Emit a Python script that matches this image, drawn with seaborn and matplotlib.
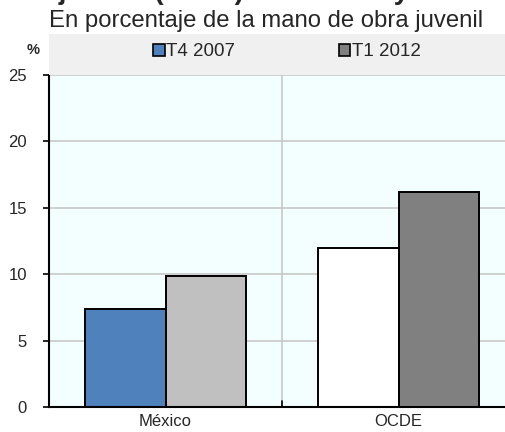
import matplotlib
matplotlib.use("Agg")
import matplotlib.pyplot as plt
import seaborn as sns
import pandas as pd
from matplotlib.patches import Patch, Rectangle

categories = ["México", "OCDE"]
series_names = ["T4 2007", "T1 2012"]
t4_2007 = [7.4, 12.0]
t1_2012 = [9.9, 16.2]
bar_colors = {("T4 2007", "México"): "#4F81BD", ("T4 2007", "OCDE"): "#FFFFFF",
              ("T1 2012", "México"): "#C0C0C0", ("T1 2012", "OCDE"): "#808080"}
legend_colors = ["#4F81BD", "#808080"]
yticks = [0, 5, 10, 15, 20, 25]

sns.set_style("white")
plt.rcParams['font.family'] = ['Liberation Sans', 'DejaVu Sans']

df = pd.DataFrame({
    "pais": categories * 2,
    "periodo": [series_names[0]] * 2 + [series_names[1]] * 2,
    "valor": t4_2007 + t1_2012,
})

fig = plt.figure(figsize=(5.05, 4.32), dpi=100)
W, H = 505, 432
x0, x1 = 49, 515
ytop, ybot = 75, 407
ax = fig.add_axes([x0 / W, 1 - ybot / H, (x1 - x0) / W, (ybot - ytop) / H])
ax.set_facecolor("#F3FFFF")

# legend band
fig.patches.append(Rectangle((49 / W, 1 - 75 / H), 1, 41 / H, transform=fig.transFigure,
                             facecolor="#F0F0F0", edgecolor="none", zorder=0))

sns.barplot(data=df, x="pais", y="valor", hue="periodo", order=categories,
            hue_order=series_names, width=0.695, edgecolor="black", linewidth=1.4,
            legend=False, ax=ax, zorder=3, saturation=1)

i = 0
for s in series_names:
    for c in categories:
        ax.patches[i].set_facecolor(bar_colors[(s, c)])
        i += 1

ax.set_xlim(-0.5, 1.5)
ax.set_ylim(0, 25)
ax.set_yticks(yticks)
ax.set_yticklabels([str(v) for v in yticks], fontsize=12)
ax.yaxis.grid(True, color="#C8C8C8", linewidth=1.2, zorder=0)
ax.axvline(0.5, color="#C8C8C8", linewidth=1.2, zorder=0)
ax.set_axisbelow(True)
ax.set_xlabel("")
ax.set_ylabel("")
ax.tick_params(axis="x", length=0, labelsize=12, pad=5)
ax.tick_params(axis="y", direction="out", length=4, width=1.2, color="black", left=True, pad=12)
ax.set_xticks([0, 1])
ax.set_xticklabels(categories)
# small inward tick at category boundary
ax.plot([0.5, 0.5], [0, 0.45], color="black", linewidth=1.2, zorder=4, clip_on=False)

for sp in ["top", "right"]:
    ax.spines[sp].set_visible(False)
ax.spines["left"].set_color("black")
ax.spines["left"].set_linewidth(1.5)
ax.spines["bottom"].set_color("black")
ax.spines["bottom"].set_linewidth(1.5)
ax.spines["left"].set_zorder(5)
ax.spines["bottom"].set_zorder(5)

handles = [Patch(facecolor=legend_colors[k], edgecolor="black", linewidth=1.2, label=series_names[k])
           for k in range(2)]
fig.legend(handles=handles, loc="center", bbox_to_anchor=(287 / W, 1 - 52 / H), ncol=2,
           frameon=False, fontsize=13.5, handlelength=0.6, handleheight=0.6, handletextpad=0.1,
           columnspacing=5.5)

fig.text(33 / W, 1 - 50 / H, "%", fontsize=10.5, fontweight="bold", ha="center", va="center")
fig.text(266 / W, 1 - 21 / H, "En porcentaje de la mano de obra juvenil", fontsize=17.2,
         ha="center", va="center")
fig.text(215 / W, 1 + 1 / H, "Desempleo juvenil (15-24) en México y la OCDE", fontsize=20,
         fontweight="bold", ha="center", va="baseline")

fig.savefig("out.png", dpi=100)
